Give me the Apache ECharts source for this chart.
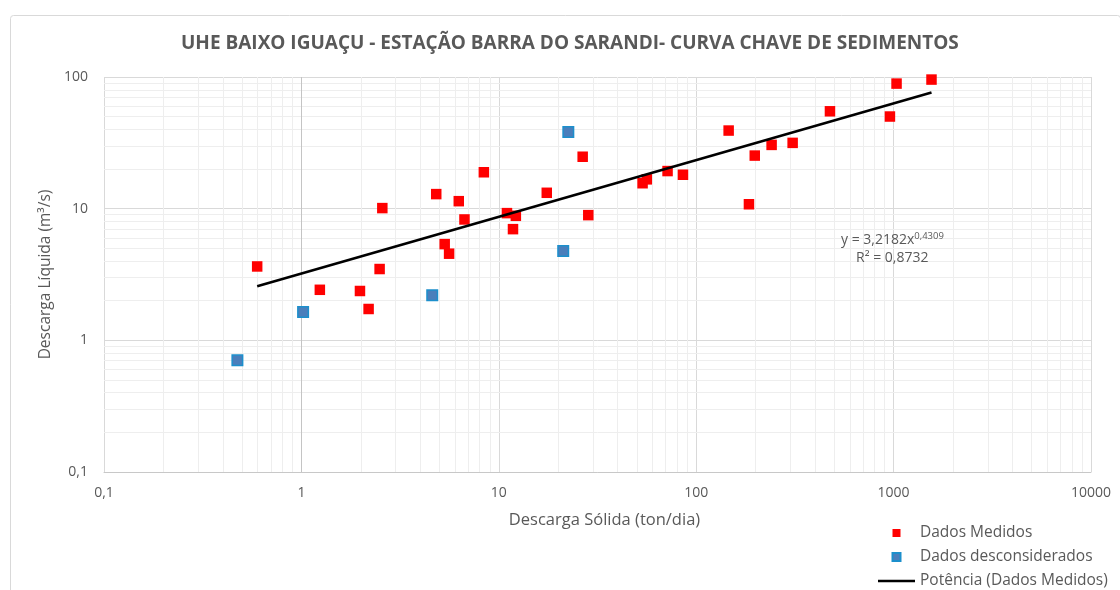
<!DOCTYPE html>
<html><head><meta charset="utf-8">
<script src="https://cdn.jsdelivr.net/npm/echarts@6/dist/echarts.min.js"></script>
<style>html,body{margin:0;padding:0;background:#fff}#c{width:1120px;height:590px}</style>
</head><body><div id="c"></div>
<script>
const chartTitle = 'UHE BAIXO IGUAÇU - ESTAÇÃO BARRA DO SARANDI- CURVA CHAVE DE SEDIMENTOS';
const xName = 'Descarga Sólida (ton/dia)';
const yName = 'Descarga Líquida (m³/s)';
const seriesNames = ['Dados Medidos', 'Dados desconsiderados', 'Potência (Dados Medidos)'];

// Dados Medidos
const medidosSolida  = [0.597, 1.24, 1.98, 2.19, 2.49, 2.57, 4.82, 5.32, 5.60, 6.27, 6.70, 8.40,
                        11.0, 11.8, 12.2, 17.5, 26.6, 28.4, 53.5, 56.2, 71.6, 85.7,
                        146, 185, 198, 241, 308, 476, 958, 1035, 1556];
const medidosLiquida = [3.64, 2.42, 2.37, 1.73, 3.48, 10.1, 12.9, 5.38, 4.55, 11.4, 8.28, 18.9,
                        9.25, 6.99, 8.83, 13.2, 24.8, 8.93, 15.6, 16.7, 19.3, 18.1,
                        39.2, 10.8, 25.3, 30.5, 31.6, 54.9, 50.1, 89.1, 95.6];
// Dados desconsiderados
const descSolida  = [0.474, 1.02, 4.60, 21.2, 22.5];
const descLiquida = [0.705, 1.64, 2.20, 4.76, 38.3];

// Power trendline (as reported on the chart)
const trendCoefText = '3,2182';
const trendCoef = 3.2182;
const trendExp = 0.4309;
const trendR2 = '0,8732';

const xMin = 0.1, xMax = 10000, yMin = 0.1, yMax = 100;
const minorMultipliers = [2, 3, 4, 5, 6, 7, 8, 9];

const fmt = v => String(+(+v).toPrecision(6)).replace('.', ',');
const FONT = '"Open Sans", "Liberation Sans", sans-serif';
const TXT = '#595959';

function minorValues(lo, hi) {
  const out = [];
  for (let d = lo; d < hi; d *= 10) minorMultipliers.forEach(m => out.push(+(d * m).toPrecision(6)));
  return out;
}

const medidos = medidosSolida.map((x, i) => [x, medidosLiquida[i]]);
const desc = descSolida.map((x, i) => [x, descLiquida[i]]);
const tx0 = Math.min(...medidosSolida), tx1 = Math.max(...medidosSolida);
const trend = [[tx0, trendCoef * Math.pow(tx0, trendExp)], [tx1, trendCoef * Math.pow(tx1, trendExp)]];

const minorLines = [
  ...minorValues(xMin, xMax).map(v => ({ xAxis: v })),
  ...minorValues(yMin, yMax).map(v => ({ yAxis: v }))
];

const chart = echarts.init(document.getElementById('c'), null, { renderer: 'canvas' });
chart.setOption({
  animation: false,
  backgroundColor: '#fff',
  textStyle: { fontFamily: FONT },
  title: {
    text: chartTitle, left: 176, top: 29,
    textStyle: { fontFamily: FONT, fontSize: 19, fontWeight: 'bold', color: TXT }
  },
  graphic: [
    { type: 'rect', left: 8, top: 13, shape: { width: 1110, height: 600, r: 3 },
      style: { fill: 'none', stroke: '#d9d9d9', lineWidth: 1 }, silent: true, z: -10 },
    { type: 'text', x: 841, y: 231, z: 10,
      style: { text: '{a|y = ' + trendCoefText + 'x}{b|' + fmt(trendExp) + '}',
        rich: { a: { fontFamily: FONT, fontSize: 14, fill: TXT, lineHeight: 18 },
                b: { fontFamily: FONT, fontSize: 9.5, fill: TXT, lineHeight: 18, verticalAlign: 'top', padding: [0, 0, 8, 0] } } } },
    { type: 'text', x: 856, y: 251, z: 10,
      style: { text: 'R² = ' + trendR2, fontFamily: FONT, fontSize: 14, fill: TXT } }
  ],
  grid: { left: 104, right: 29, top: 77, bottom: 118, containLabel: false },
  legend: {
    orient: 'vertical', left: 878, top: 524, height: 90, padding: 0,
    itemWidth: 37, itemHeight: 8, itemGap: 6,
    textStyle: { fontFamily: FONT, fontSize: 15.5, lineHeight: 18, color: TXT },
    data: [
      { name: seriesNames[0], icon: 'path://M0,0H10V10H0Z' },
      { name: seriesNames[1], icon: 'path://M0,0H10V10H0Z' },
      { name: seriesNames[2], icon: 'path://M0,0H37V2.6H0Z' }
    ]
  },
  xAxis: {
    type: 'log', logBase: 10, min: xMin, max: xMax,
    name: xName, nameLocation: 'middle', nameGap: 40,
    nameTextStyle: { fontFamily: FONT, fontSize: 16.5, color: TXT, padding: [0, 0, 0, 14] },
    axisLine: { show: true, lineStyle: { color: '#c8c8c8' } },
    axisTick: { show: false },
    axisLabel: { formatter: fmt, margin: 14, fontFamily: FONT, fontSize: 14, color: TXT },
    splitLine: { show: true, lineStyle: { color: '#d9d9d9' } }
  },
  yAxis: {
    type: 'log', logBase: 10, min: yMin, max: yMax,
    name: yName, nameLocation: 'middle', nameGap: 50,
    nameTextStyle: { fontFamily: FONT, fontSize: 15.5, color: TXT },
    axisLine: { show: false },
    axisTick: { show: false },
    axisLabel: { formatter: fmt, margin: 16, fontFamily: FONT, fontSize: 14, color: TXT },
    splitLine: { show: true, lineStyle: { color: '#d9d9d9' } }
  },
  series: [
    {
      name: seriesNames[0], type: 'scatter', data: medidos, symbol: 'rect', symbolSize: 10.5, z: 3,
      itemStyle: { color: '#ff0000', opacity: 1 },
      markLine: {
        silent: true, symbol: ['none', 'none'], z: 1, animation: false,
        label: { show: false }, emphasis: { disabled: true },
        lineStyle: { color: '#eeeeee', type: 'solid', width: 1 },
        data: [...minorLines, { xAxis: 1, lineStyle: { color: '#c4c4c4' } }]
      }
    },
    {
      name: seriesNames[1], type: 'scatter', data: desc, symbol: 'rect', symbolSize: 10.5, z: 3,
      itemStyle: { color: '#4a7ebb', borderColor: '#1c8fcc', borderWidth: 1.5, opacity: 1 }
    },
    {
      name: seriesNames[2], type: 'line', data: trend, symbol: 'none', z: 4, color: '#000',
      lineStyle: { color: '#000', width: 2.6 }, itemStyle: { color: '#000' }
    }
  ]
});
</script></body></html>
